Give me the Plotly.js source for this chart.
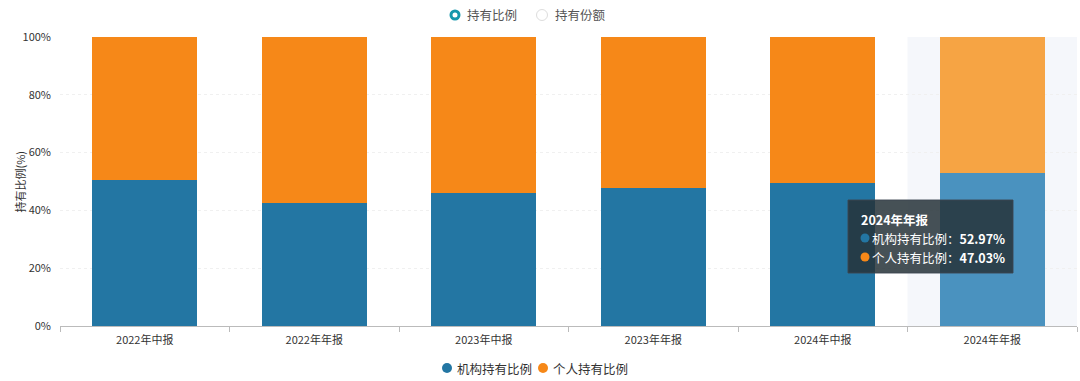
<!DOCTYPE html>
<html><head><meta charset="utf-8">
<script src="https://cdn.plot.ly/plotly-3.0.1.min.js"></script>
<style>html,body{margin:0;padding:0;background:#fff}#chart{width:1080px;height:381px}</style>
</head><body><div id="chart"></div>
<script>
const categories = ['2022年中报','2022年年报','2023年中报','2023年年报','2024年中报','2024年年报'];
const instRatio = [50.6, 42.5, 46.1, 47.6, 49.4, 52.97];
const persRatio = [49.4, 57.5, 53.9, 52.4, 50.6, 47.03];
const yTicks = [0, 20, 40, 60, 80, 100];
const yTickText = ['0%','20%','40%','60%','80%','100%'];
const seriesNames = ['机构持有比例','个人持有比例'];
const topTabs = ['持有比例','持有份额'];
const yTitle = '持有比例(%)';
const hoverIndex = 5;

const font = '"Noto Sans CJK SC", "Noto Sans", sans-serif';
const blue = '#2376a3', orange = '#f68818';
const blueHi = '#4a92bf', orangeHi = '#f6a444';
const blueColors = categories.map((c,i)=> i===hoverIndex ? blueHi : blue);
const orangeColors = categories.map((c,i)=> i===hoverIndex ? orangeHi : orange);

const data = [
  {type:'bar', x:categories, y:instRatio, name:seriesNames[0], marker:{color:blueColors}, showlegend:false, hoverinfo:'skip'},
  {type:'bar', x:categories, y:persRatio, name:seriesNames[1], marker:{color:orangeColors}, showlegend:false, hoverinfo:'skip'}
];

// pixel -> paper helpers (plot area: x 60..1077, y 37..326)
const L=60, R=1077, T=37, B=326;
const px = v => (v-L)/(R-L);
const py = v => (B-v)/(B-T);

function dot(x, y, r, fill, line){
  return {type:'circle', xref:'paper', yref:'paper', xsizemode:'pixel', ysizemode:'pixel',
    xanchor:px(x), yanchor:py(y), x0:-r, x1:r, y0:-r, y1:r, fillcolor:fill, line:line||{width:0}};
}
function label(x, y, text, size, color){
  return {xref:'paper', yref:'paper', x:px(x), y:py(y), xanchor:'left', yanchor:'middle', showarrow:false,
    text:text, font:{size:size, color:color}};
}

const layout = {
  width:1080, height:381,
  margin:{l:L, r:1080-R, t:T, b:381-B, autoexpand:false},
  barmode:'stack', bargap:0.38, showlegend:false,
  paper_bgcolor:'#fff', plot_bgcolor:'#fff',
  font:{family:font, size:11, color:'#333'},
  xaxis:{type:'category', tickson:'boundaries', ticks:'outside', ticklen:5, tickcolor:'#bbb',
    showline:true, linecolor:'#bbb', showgrid:false, tickfont:{size:11, color:'#333'}, fixedrange:true,
    ticklabelstandoff:4},
  yaxis:{range:[0,100], tickvals:yTicks, ticktext:yTickText, showgrid:true, gridcolor:'#f0f0f0', griddash:'dot',
    zeroline:false, tickfont:{size:11, color:'#333'}, ticklen:0, ticklabelstandoff:8},
  shapes:[
    {type:'rect', layer:'below', xref:'x', yref:'paper', x0:hoverIndex-0.5, x1:hoverIndex+0.5, y0:0, y1:1,
      fillcolor:'#f5f7fb', line:{width:0}},
    {type:'rect', layer:'above', xref:'paper', yref:'paper', x0:px(848), x1:px(1013), y0:py(273), y1:py(200),
      fillcolor:'rgba(38,50,56,0.85)', line:{width:1, color:'rgba(60,70,80,0.9)'}},
    dot(865, 238, 4.5, blue),
    dot(865, 257, 4.5, orange),
    // bottom legend
    dot(447, 368, 5, blue),
    dot(543, 368, 5, orange),
    // top tabs
    dot(455, 15, 4, '#fff', {color:'#1597ac', width:3}),
    dot(542, 15, 5.5, '#fff', {color:'#dddddd', width:1})
  ],
  annotations:[
    {xref:'paper', yref:'paper', x:px(19), y:0.5, xanchor:'center', yanchor:'middle', showarrow:false,
      textangle:-90, text:yTitle, font:{size:11, color:'#333'}},
    label(859, 219, '<b>'+categories[hoverIndex]+'</b>', 12.5, '#fff'),
    label(870, 238, seriesNames[0]+'：<b>'+instRatio[hoverIndex].toFixed(2)+'%</b>', 12.5, '#fff'),
    label(870, 257, seriesNames[1]+'：<b>'+persRatio[hoverIndex].toFixed(2)+'%</b>', 12.5, '#fff'),
    label(455, 368, seriesNames[0], 12.5, '#333'),
    label(551, 368, seriesNames[1], 12.5, '#333'),
    label(465, 15, topTabs[0], 12.5, '#555'),
    label(553, 15, topTabs[1], 12.5, '#555')
  ]
};
Plotly.newPlot('chart', data, layout, {displayModeBar:false, staticPlot:true});
</script></body></html>
